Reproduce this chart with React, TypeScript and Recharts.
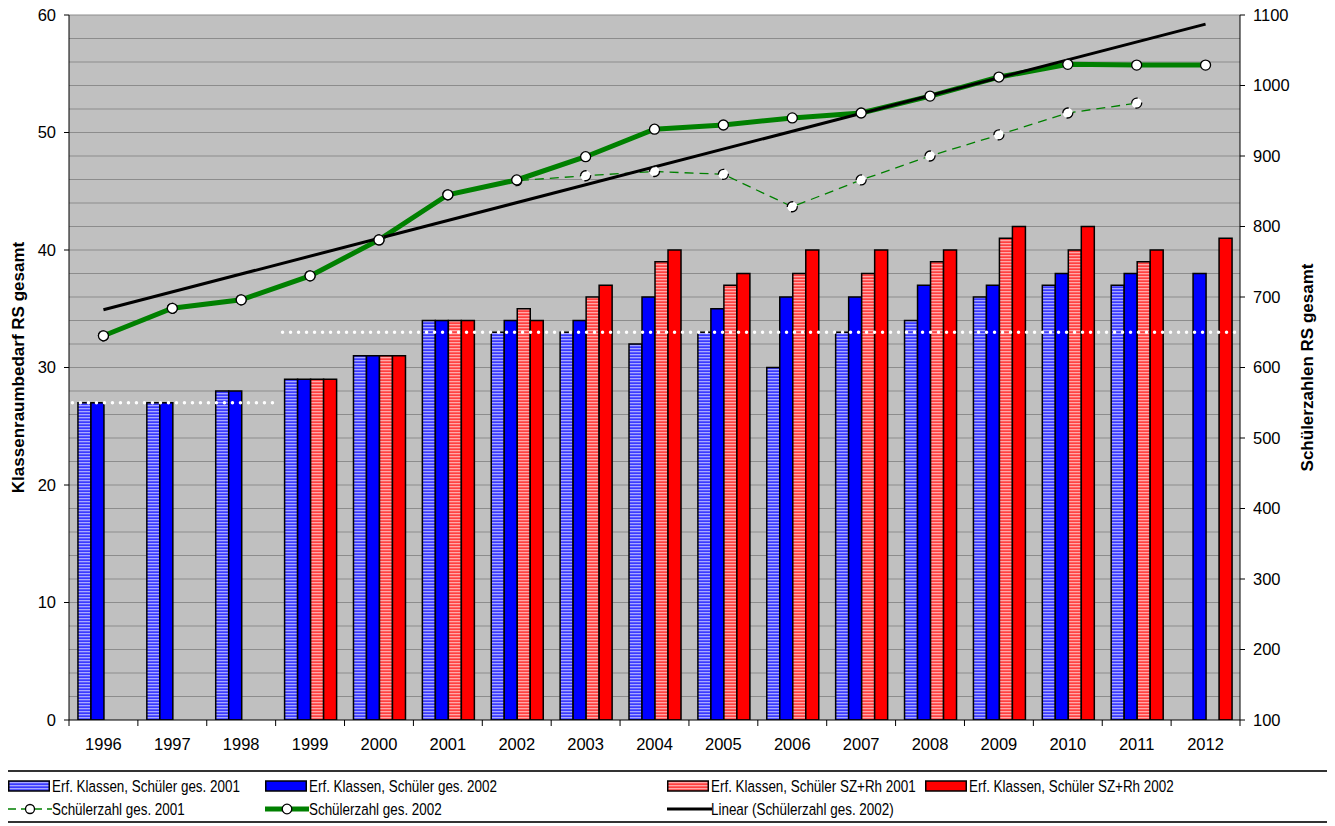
import React from 'react';
import {
  ComposedChart,
  Bar,
  Line,
  XAxis,
  YAxis,
  CartesianGrid,
  ReferenceLine,
  Legend,
} from 'recharts';

const years = ['1996', '1997', '1998', '1999', '2000', '2001', '2002', '2003', '2004', '2005', '2006', '2007', '2008', '2009', '2010', '2011', '2012'];

const klassenGes2001 = [27, 27, 28, 29, 31, 34, 33, 33, 32, 33, 30, 33, 34, 36, 37, 37, null];
const klassenGes2002 = [27, 27, 28, 29, 31, 34, 34, 34, 36, 35, 36, 36, 37, 37, 38, 38, 38];
const klassenSZ2001 = [null, null, null, 29, 31, 34, 35, 36, 39, 37, 38, 38, 39, 41, 40, 39, null];
const klassenSZ2002 = [null, null, null, 29, 31, 34, 34, 37, 40, 38, 40, 40, 40, 42, 42, 40, 41];

const schueler2001 = [645, 684, 696, 730, 781, 845, 865, 872, 878, 874, 828, 866, 900, 930, 961, 975, null];
const schueler2002 = [645, 684, 696, 730, 781, 845, 866, 899, 938, 944, 954, 961, 985, 1012, 1030, 1029, 1029];
const trend2002 = [682, null, null, null, null, null, null, null, null, null, null, null, null, null, null, null, 1087];

const leftTicks = [0, 10, 20, 30, 40, 50, 60];
const rightTicks = [100, 200, 300, 400, 500, 600, 700, 800, 900, 1000, 1100];
const gridValues = [2, 4, 6, 8, 10, 12, 14, 16, 18, 20, 22, 24, 26, 28, 30, 32, 34, 36, 38, 40, 42, 44, 46, 48, 50, 52, 54, 56, 58, 60];

// white dotted reference levels (value on left axis, span in category units)
const dottedLevels = [
  { from: 0.05, to: 3.05, value: 27 },
  { from: 3.1, to: 16.99, value: 33 },
];

const data = years.map((y, i) => ({
  year: y,
  slot: i,
  kg01: klassenGes2001[i],
  kg02: klassenGes2002[i],
  ksz01: klassenSZ2001[i],
  ksz02: klassenSZ2002[i],
  s01: schueler2001[i],
  s02: schueler2002[i],
  trend: trend2002[i],
}));

const FONT = '"Liberation Sans", Arial, sans-serif';
const CHART_W = 1335;
const CHART_H = 826;
const PLOT_LEFT = 69;
const PLOT_RIGHT = 1240;
const PLOT_BOTTOM = 720;
const BAND = (PLOT_RIGHT - PLOT_LEFT) / years.length;

const XTick = (props: any) => {
  const { x, payload, index } = props;
  return (
    <g>
      <text x={x} y={PLOT_BOTTOM + 30} textAnchor="middle" fontSize={16.5} fill="#000" fontFamily={FONT}>
        {payload.value}
      </text>
      <line x1={x - BAND / 2} x2={x - BAND / 2} y1={PLOT_BOTTOM} y2={PLOT_BOTTOM + 6} stroke="#000" strokeWidth={1} />
      {index === years.length - 1 ? (
        <line x1={x + BAND / 2} x2={x + BAND / 2} y1={PLOT_BOTTOM} y2={PLOT_BOTTOM + 6} stroke="#000" strokeWidth={1} />
      ) : null}
    </g>
  );
};

const leftTitle = (props: any) => {
  const vb = props.viewBox || {};
  const cx = vb.x + 18;
  const cy = vb.y + vb.height / 2;
  return (
    <text
      x={cx}
      y={cy}
      transform={`rotate(-90 ${cx} ${cy})`}
      textAnchor="middle"
      dominantBaseline="central"
      fontSize={17}
      fontWeight="bold"
      fontFamily={FONT}
      fill="#000"
    >
      Klassenraumbedarf RS gesamt
    </text>
  );
};

const rightTitle = (props: any) => {
  const vb = props.viewBox || {};
  const cx = vb.x + 67;
  const cy = vb.y + vb.height / 2;
  return (
    <text
      x={cx}
      y={cy}
      transform={`rotate(-90 ${cx} ${cy})`}
      textAnchor="middle"
      dominantBaseline="central"
      fontSize={17}
      fontWeight="bold"
      fontFamily={FONT}
      fill="#000"
    >
      Schülerzahlen RS gesamt
    </text>
  );
};

type LegendItem = { label: string; kind: 'bar' | 'dashed' | 'thick' | 'plain'; fill?: string; row: number; col: number };

const legendItems: LegendItem[] = [
  { label: 'Erf. Klassen, Schüler ges. 2001', kind: 'bar', fill: 'url(#stripeBlue)', row: 0, col: 0 },
  { label: 'Erf. Klassen, Schüler ges. 2002', kind: 'bar', fill: '#0000ff', row: 0, col: 1 },
  { label: 'Erf. Klassen, Schüler SZ+Rh 2001', kind: 'bar', fill: 'url(#stripeRed)', row: 0, col: 2 },
  { label: 'Erf. Klassen, Schüler SZ+Rh 2002', kind: 'bar', fill: '#ff0000', row: 0, col: 3 },
  { label: 'Schülerzahl ges. 2001', kind: 'dashed', row: 1, col: 0 },
  { label: 'Schülerzahl ges. 2002', kind: 'thick', row: 1, col: 1 },
  { label: 'Linear (Schülerzahl ges. 2002)', kind: 'plain', row: 1, col: 2 },
];

const LEG_TOP = 770;
const LEG_H = 54;
const colLeft = [8, 265, 667, 925];
const rowCenter = [16, 39];

const LegendIcon = ({ item, x, y }: { item: LegendItem; x: number; y: number }) => {
  if (item.kind === 'bar') {
    return <rect x={x + 0.75} y={y - 5} width={40.5} height={10} fill={item.fill} stroke="#000" strokeWidth={1.5} />;
  }
  if (item.kind === 'dashed') {
    return (
      <g>
        <line x1={x} x2={x + 44} y1={y} y2={y} stroke="#008000" strokeWidth={1.5} strokeDasharray="8 5" />
        <circle cx={x + 22} cy={y} r={4.5} fill="#fff" stroke="#000" strokeWidth={1.3} />
      </g>
    );
  }
  if (item.kind === 'thick') {
    return (
      <g>
        <line x1={x} x2={x + 44} y1={y} y2={y} stroke="#008000" strokeWidth={5} />
        <circle cx={x + 22} cy={y} r={4.8} fill="#fff" stroke="#000" strokeWidth={1.3} />
      </g>
    );
  }
  return <line x1={x} x2={x + 45} y1={y} y2={y} stroke="#000" strokeWidth={3} />;
};

const renderLegend = () => (
  <svg width={CHART_W} height={LEG_H} style={{ display: 'block' }}>
    <rect x={4} y={1} width={1327} height={51} fill="#fff" stroke="#333" strokeWidth={2} />
    {legendItems.map((item) => {
      const x = colLeft[item.col];
      const y = rowCenter[item.row];
      const tx = x + 44;
      return (
        <g key={item.label}>
          <LegendIcon item={item} x={x} y={y} />
          <text
            transform={`translate(${tx},${y}) scale(0.79,1)`}
            x={0}
            y={0}
            dominantBaseline="central"
            fontSize={17}
            fontFamily={FONT}
            fill="#000"
          >
            {item.label}
          </text>
        </g>
      );
    })}
  </svg>
);

export default function App() {
  return (
    <div style={{ position: 'relative', left: -8, top: -8, width: CHART_W, height: CHART_H, background: '#fff' }}>
      <ComposedChart
        width={CHART_W}
        height={CHART_H}
        data={data}
        margin={{ top: 15, right: 0, left: 0, bottom: 76 }}
        barCategoryGap="13%"
        barGap={0}
        style={{ fontFamily: FONT }}
      >
        <defs>
          <pattern id="stripeBlue" x={0} y={0} width={4} height={3} patternUnits="userSpaceOnUse">
            <rect x={0} y={0} width={4} height={3} fill="#3a3aff" />
            <rect x={0} y={0} width={4} height={1.3} fill="#a8a8ff" />
          </pattern>
          <pattern id="stripeRed" x={0} y={0} width={4} height={3} patternUnits="userSpaceOnUse">
            <rect x={0} y={0} width={4} height={3} fill="#ff4040" />
            <rect x={0} y={0} width={4} height={1.3} fill="#ffa8a8" />
          </pattern>
        </defs>
        <CartesianGrid
          xAxisId="c"
          yAxisId="left"
          vertical={false}
          horizontalValues={gridValues}
          fill="#c0c0c0"
          fillOpacity={1}
          stroke="#8c8c8c"
          strokeWidth={1}
        />
        <XAxis
          xAxisId="c"
          dataKey="year"
          type="category"
          interval={0}
          height={30}
          axisLine={{ stroke: '#000', strokeWidth: 1 }}
          tickLine={false}
          tick={<XTick />}
        />
        <XAxis xAxisId="n" dataKey="slot" type="number" domain={[0, 17]} hide allowDataOverflow />
        <YAxis
          yAxisId="left"
          orientation="left"
          width={69}
          domain={[0, 60]}
          ticks={leftTicks}
          interval={0}
          allowDataOverflow
          axisLine={{ stroke: '#000', strokeWidth: 1 }}
          tickLine={{ stroke: '#000', strokeWidth: 1 }}
          tickSize={5}
          tickMargin={8}
          tick={{ fill: '#000', fontSize: 16.5, fontFamily: FONT }}
          label={leftTitle}
        />
        <YAxis
          yAxisId="right"
          orientation="right"
          width={95}
          domain={[100, 1100]}
          ticks={rightTicks}
          interval={0}
          allowDataOverflow
          axisLine={{ stroke: '#000', strokeWidth: 1 }}
          tickLine={{ stroke: '#000', strokeWidth: 1 }}
          tickSize={5}
          tickMargin={8}
          tick={{ fill: '#000', fontSize: 16.5, fontFamily: FONT }}
          label={rightTitle}
        />
        <Bar xAxisId="c" yAxisId="left" dataKey="kg01" fill="url(#stripeBlue)" stroke="#000" strokeWidth={1.5} isAnimationActive={false} />
        <Bar xAxisId="c" yAxisId="left" dataKey="kg02" fill="#0000ff" stroke="#000" strokeWidth={1.5} isAnimationActive={false} />
        <Bar xAxisId="c" yAxisId="left" dataKey="ksz01" fill="url(#stripeRed)" stroke="#000" strokeWidth={1.5} isAnimationActive={false} />
        <Bar xAxisId="c" yAxisId="left" dataKey="ksz02" fill="#ff0000" stroke="#000" strokeWidth={1.5} isAnimationActive={false} />
        {dottedLevels.map((d, i) => (
          <ReferenceLine
            key={i}
            xAxisId="n"
            yAxisId="left"
            ifOverflow="visible"
            segment={[
              { x: d.from, y: d.value },
              { x: d.to, y: d.value },
            ]}
            stroke="#ffffff"
            strokeWidth={3.5}
            strokeDasharray="0 8"
            strokeLinecap="round"
          />
        ))}
        <Line
          xAxisId="c"
          yAxisId="right"
          dataKey="s01"
          stroke="#008000"
          strokeWidth={1.3}
          strokeDasharray="9 6"
          dot={{ r: 5, fill: '#fff', stroke: '#000', strokeWidth: 1.3 }}
          activeDot={false}
          isAnimationActive={false}
        />
        <Line
          xAxisId="c"
          yAxisId="right"
          dataKey="s02"
          stroke="#008000"
          strokeWidth={5}
          dot={{ r: 5, fill: '#fff', stroke: '#000', strokeWidth: 1.3 }}
          activeDot={false}
          isAnimationActive={false}
        />
        <Line
          xAxisId="c"
          yAxisId="right"
          dataKey="trend"
          stroke="#000"
          strokeWidth={3}
          dot={false}
          activeDot={false}
          connectNulls
          isAnimationActive={false}
        />
        <Legend
          layout="horizontal"
          verticalAlign="middle"
          align="center"
          wrapperStyle={{ left: 0, top: LEG_TOP, width: CHART_W, height: LEG_H }}
          content={renderLegend}
        />
      </ComposedChart>
    </div>
  );
}
